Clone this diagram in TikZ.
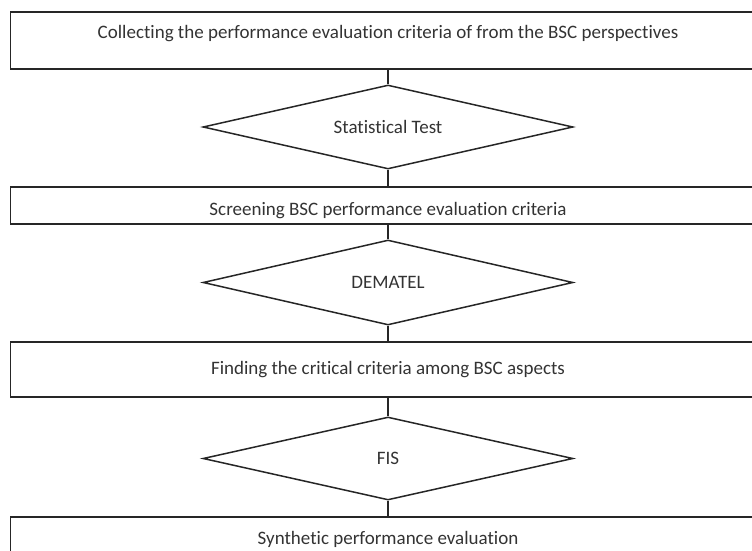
\documentclass[tikz,border=0pt]{standalone}
\usepackage{fontspec}
\setmainfont{Carlito}[Ligatures=CommonOff]
\usetikzlibrary{shapes.geometric}
\tikzset{
  box/.style={draw=black!85, line width=1.5pt, rectangle, minimum width=755pt, inner sep=0pt, text=black!80, font=\fontsize{19}{22}\selectfont},
  test/.style={draw=black!85, line width=1.5pt, diamond, shape aspect=4.4, minimum width=370pt, inner sep=0pt, text=black!80, font=\fontsize{19}{22}\selectfont},
  link/.style={draw=black!85, line width=1.5pt}
}
\begin{document}
\begin{tikzpicture}[x=1pt, y=-1pt]
                % Marco
                \useasboundingbox (0,0) rectangle (752,551);
                \clip (0,0) rectangle (752,551);
                % Cajas
                \node[box, minimum height=57pt, text height=14pt, text depth=18pt] (collect) at (388,40.5) {Collecting the performance evaluation criteria of from the BSC perspectives};
                \node[box, minimum height=37pt, text height=25pt, text depth=5pt] (screen) at (388,205.5) {Screening BSC performance evaluation criteria};
                \node[box, minimum height=55pt] (critical) at (388,369.5) {Finding the critical criteria among BSC aspects};
                \node[box, minimum height=60pt, text height=14pt, text depth=19pt] (synth) at (388,547) {Synthetic performance evaluation};
                % Rombos
                \node[test, minimum height=84pt] (stat) at (388,127) {Statistical Test};
                \node[test, minimum height=85pt] (dematel) at (388,282.5) {DEMATEL};
                \node[test, minimum height=83pt] (fis) at (388,458.5) {FIS};
                % Lineas
                \draw[link] (collect.south) -- (stat.north);
                \draw[link] (stat.south) -- (screen.north);
                \draw[link] (screen.south) -- (dematel.north);
                \draw[link] (dematel.south) -- (critical.north);
                \draw[link] (critical.south) -- (fis.north);
                \draw[link] (fis.south) -- (synth.north);
\end{tikzpicture}
\end{document}
